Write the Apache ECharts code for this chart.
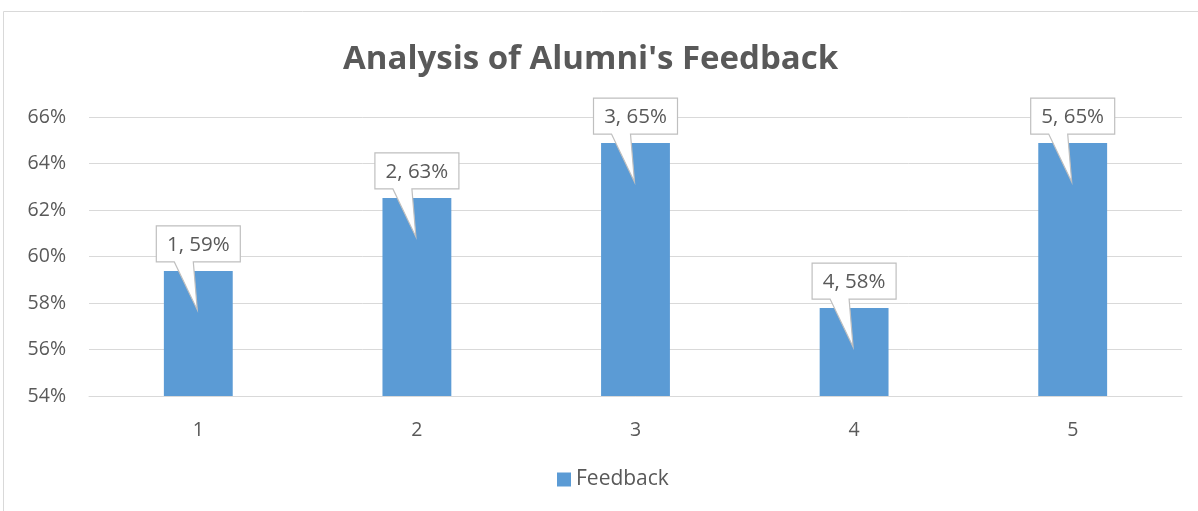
<!DOCTYPE html>
<html>
<head>
<meta charset="utf-8">
<script src="https://cdn.jsdelivr.net/npm/echarts@6/dist/echarts.min.js"></script>
<style>
html,body{margin:0;padding:0;background:#fff;}
#chart{width:1198px;height:511px;}
</style>
</head>
<body>
<div id="chart"></div>
<script>
const categories = ['1', '2', '3', '4', '5'];
const feedback = [59.38, 62.52, 64.88, 57.78, 64.88];
const yTicks = { min: 54, max: 66, interval: 2 };
const titleText = "Analysis of Alumni's Feedback";
const seriesName = 'Feedback';

const FONT = '"Open Sans", "Noto Sans", sans-serif';
const chart = echarts.init(document.getElementById('chart'));

function renderCallout(params, api) {
  const cat = api.value(0);
  const v = api.value(1);
  const top = api.coord([cat, v]);
  const cx = top[0];
  const barTop = top[1];
  const w = 84, h = 36;
  const B = barTop - 9, T = B - h, L = cx - 42, R = L + w;
  const tipX = cx - 1, tipY = barTop + 39;
  const x1 = cx - 24, x2 = cx - 5;
  return {
    type: 'group',
    children: [
      {
        type: 'polygon',
        shape: { points: [[L, T], [R, T], [R, B], [x2, B], [tipX, tipY], [x1, B], [L, B]] },
        style: { fill: '#ffffff', stroke: '#bfbfbf', lineWidth: 1.2 }
      },
      {
        type: 'text',
        style: {
          text: categories[params.dataIndex] + ', ' + Math.round(v) + '%',
          x: (L + R) / 2, y: (T + B) / 2 + 1,
          align: 'center', verticalAlign: 'middle',
          font: '20.5px ' + FONT, fill: '#595959'
        }
      }
    ]
  };
}

chart.setOption({
  animation: false,
  backgroundColor: '#ffffff',
  graphic: [{
    type: 'rect',
    shape: { x: 3.5, y: 11.5, width: 1300, height: 600 },
    style: { fill: 'none', stroke: '#d9d9d9', lineWidth: 1 },
    silent: true
  }],
  title: {
    text: titleText,
    left: 338,
    top: 38,
    textStyle: { fontFamily: FONT, fontSize: 33, fontWeight: 'bold', color: '#595959' }
  },
  legend: {
    bottom: 16,
    left: 552,
    itemWidth: 14, itemHeight: 14, itemGap: 7,
    icon: 'rect',
    data: [seriesName],
    textStyle: { fontFamily: FONT, fontSize: 21, color: '#595959' }
  },
  grid: { left: 89, right: 16, top: 117, bottom: 115, containLabel: false },
  xAxis: {
    type: 'category',
    data: categories,
    axisLine: { show: true, lineStyle: { color: '#d9d9d9' } },
    axisTick: { show: false },
    axisLabel: { fontFamily: FONT, fontSize: 19.5, color: '#595959', margin: 24 }
  },
  yAxis: {
    type: 'value',
    min: yTicks.min, max: yTicks.max, interval: yTicks.interval,
    axisLine: { show: false },
    axisTick: { show: false },
    splitLine: { lineStyle: { color: '#d9d9d9', width: 1 } },
    axisLabel: { fontFamily: FONT, fontSize: 19.5, color: '#595959', margin: 23, formatter: '{value}%' }
  },
  series: [
    {
      name: seriesName,
      type: 'bar',
      data: feedback,
      barWidth: '31.5%',
      itemStyle: { color: '#5B9BD5' }
    },
    {
      type: 'custom',
      data: categories.map((c, i) => [i, feedback[i]]),
      renderItem: renderCallout,
      clip: false,
      z: 10,
      silent: true
    }
  ]
});
</script>
</body>
</html>
